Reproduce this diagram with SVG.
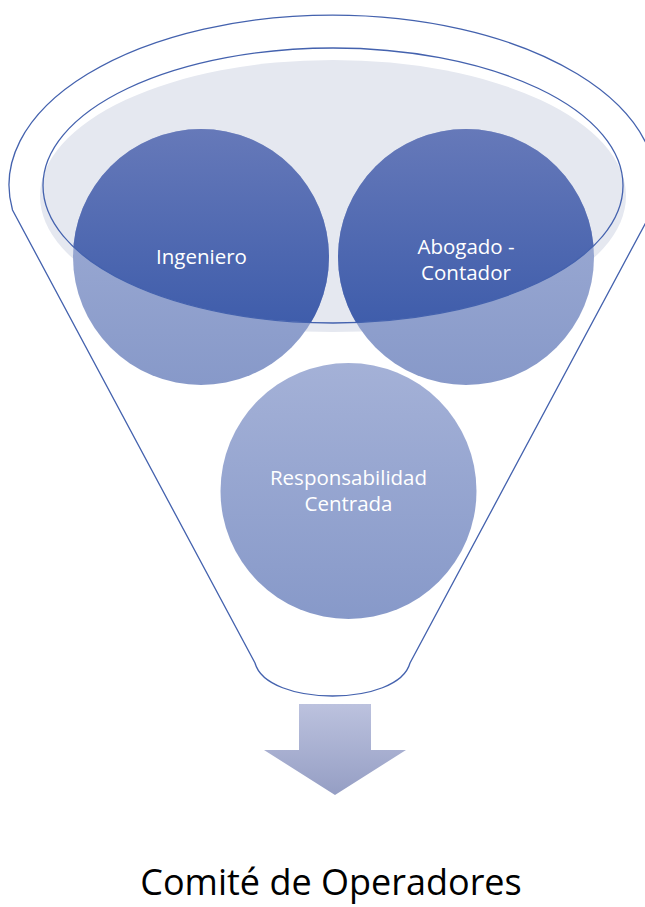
<svg xmlns="http://www.w3.org/2000/svg" width="645" height="907" viewBox="0 0 645 907">
  <style>
    .funnel { fill: none; stroke: #4462AE; stroke-width: 1.3; }
    .lbl { font-family: "Open Sans", "Noto Sans", sans-serif; font-size: 20.5px; fill: #FFFFFF; text-anchor: middle; }
    .title { font-family: "Open Sans", "Noto Sans", sans-serif; font-size: 36px; fill: #000000; text-anchor: middle; }
  </style>
  <defs>
    <linearGradient id="light" x1="0" y1="0" x2="0" y2="1">
      <stop offset="0" stop-color="#A4B1D7"/>
      <stop offset="1" stop-color="#8799C9"/>
    </linearGradient>
    <linearGradient id="dark" gradientUnits="userSpaceOnUse" x1="0" y1="129" x2="0" y2="323">
      <stop offset="0" stop-color="#6679B9"/>
      <stop offset="1" stop-color="#3F5DAB"/>
    </linearGradient>
    <linearGradient id="arrowGrad" x1="0" y1="0" x2="0" y2="1">
      <stop offset="0" stop-color="#BCC2DE"/>
      <stop offset="1" stop-color="#959EC4"/>
    </linearGradient>
    <clipPath id="topClip">
      <ellipse cx="333" cy="185.5" rx="290" ry="137.5"/>
    </clipPath>
  </defs>

  <g id="funnel">
    <path class="funnel" d="M 12.5,210 A 323.5 170 0 1 1 652.5,210 L 410,663 C 398,707 267,707 255,663 Z"/>
    <ellipse cx="333" cy="196" rx="293" ry="136" fill="#E5E8F0"/>
  </g>

  <g id="node-ingeniero">
    <circle cx="201" cy="257" r="128" fill="url(#light)"/>
    <circle cx="201" cy="257" r="128" fill="url(#dark)" clip-path="url(#topClip)"/>
  </g>
  <g id="node-abogado">
    <circle cx="466" cy="257" r="128" fill="url(#light)"/>
    <circle cx="466" cy="257" r="128" fill="url(#dark)" clip-path="url(#topClip)"/>
  </g>

  <g id="funnel-rim">
    <ellipse class="funnel" cx="333" cy="185.5" rx="290" ry="137.5"/>
  </g>

  <g id="node-ingeniero-label">
    <text class="lbl" x="201.5" y="264">Ingeniero</text>
  </g>
  <g id="node-abogado-label">
    <text class="lbl" x="466" y="253.5">Abogado -</text>
    <text class="lbl" x="466" y="280">Contador</text>
  </g>

  <g id="node-responsabilidad">
    <circle cx="348.5" cy="491" r="128" fill="url(#light)"/>
    <text class="lbl" x="348.5" y="484.5">Responsabilidad</text>
    <text class="lbl" x="348.5" y="510.5">Centrada</text>
  </g>

  <g id="connectors">
    <path d="M 299,704 L 371,704 L 371,750 L 406,750 L 335,795 L 264,750 L 299,750 Z" fill="url(#arrowGrad)"/>
  </g>

  <g id="node-comite">
    <text class="title" x="331" y="895">Comité de Operadores</text>
  </g>
</svg>
